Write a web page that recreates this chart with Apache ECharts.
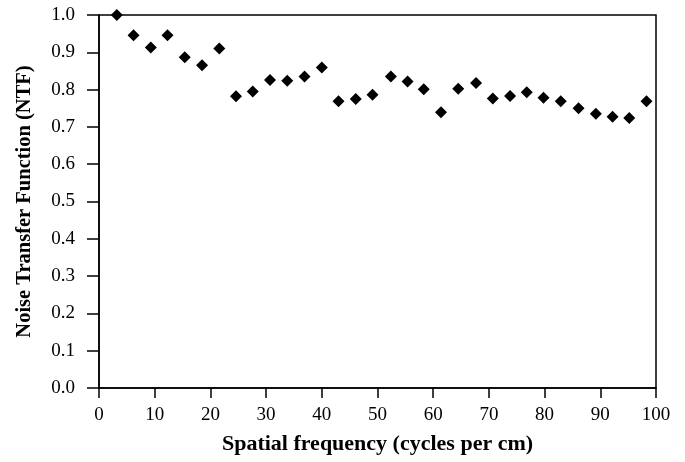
<!DOCTYPE html>
<html><head><meta charset="utf-8">
<script src="https://cdn.jsdelivr.net/npm/echarts@6/dist/echarts.min.js"></script>
<style>html,body{margin:0;padding:0;background:#fff}#c{width:685px;height:462px}</style>
</head><body><div id="c"></div>
<script>
const freq = [3.2, 6.2, 9.3, 12.3, 15.4, 18.5, 21.6, 24.6, 27.6, 30.7, 33.8, 36.9, 40.0, 43.0, 46.1, 49.1, 52.4, 55.4, 58.3, 61.4, 64.5, 67.7, 70.7, 73.8, 76.8, 79.8, 82.9, 86.1, 89.2, 92.2, 95.2, 98.3];
const ntf = [1.0, 0.946, 0.913, 0.946, 0.887, 0.865, 0.910, 0.782, 0.795, 0.826, 0.824, 0.835, 0.859, 0.769, 0.775, 0.786, 0.835, 0.822, 0.801, 0.739, 0.802, 0.818, 0.776, 0.783, 0.793, 0.778, 0.769, 0.750, 0.735, 0.727, 0.724, 0.769];
const xTitle = 'Spatial frequency (cycles per cm)';
const yTitle = 'Noise Transfer Function (NTF)';

const chart = echarts.init(document.getElementById('c'));
const font = '"Liberation Serif", "Times New Roman", serif';
chart.setOption({
  animation: false,
  grid: {left: 99, right: 29, top: 15, bottom: 74, show: true, borderColor: '#000', borderWidth: 1.5},
  xAxis: {
    type: 'value', min: 0, max: 100, interval: 10,
    name: xTitle, nameLocation: 'middle', nameGap: 45,
    nameTextStyle: {fontFamily: font, fontWeight: 'bold', fontSize: 22, color: '#000'},
    axisLine: {lineStyle: {color: '#000', width: 1.5}},
    axisTick: {inside: false, length: 10, lineStyle: {color: '#000', width: 1.5}},
    axisLabel: {fontFamily: font, fontSize: 19, color: '#000', margin: 18},
    splitLine: {show: false}
  },
  yAxis: {
    type: 'value', min: 0, max: 1, interval: 0.1,
    name: yTitle, nameLocation: 'middle', nameGap: 64,
    nameTextStyle: {fontFamily: font, fontWeight: 'bold', fontSize: 20.5, color: '#000'},
    axisLine: {lineStyle: {color: '#000', width: 1.5}},
    axisTick: {inside: false, length: 12, lineStyle: {color: '#000', width: 1.5}},
    axisLabel: {fontFamily: font, fontSize: 19, color: '#000', margin: 24, formatter: v => v.toFixed(1)},
    splitLine: {show: false}
  },
  series: [{
    type: 'scatter', symbol: 'diamond', symbolSize: 12,
    itemStyle: {color: '#000', opacity: 1},
    data: freq.map((f, i) => [f, ntf[i]])
  }]
});
</script></body></html>
